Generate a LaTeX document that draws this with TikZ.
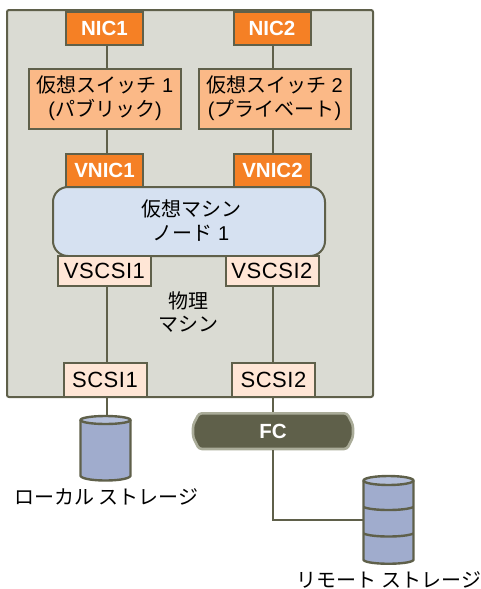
\documentclass[tikz,border=0pt]{standalone}
\usepackage{fontspec}
\setmainfont{Liberation Sans}
\newfontfamily\jpf{Noto Sans CJK JP}
\definecolor{edge}{HTML}{5F604A}
\definecolor{frameC}{HTML}{DADBD3}
\definecolor{orangeC}{HTML}{F58025}
\definecolor{switchC}{HTML}{FBB987}
\definecolor{vmC}{HTML}{D6E1F1}
\definecolor{portC}{HTML}{FFE6D6}
\definecolor{diskC}{HTML}{A0ACCD}
\definecolor{diskT}{HTML}{B4BFDA}
\definecolor{fcB}{HTML}{AAAC99}
\tikzset{
  box/.style={draw=edge,line width=2pt,inner sep=0pt,align=center},
  nicbox/.style={box,fill=orangeC,text=white,font=\fontsize{20.5}{24}\selectfont\bfseries,minimum width=77pt,minimum height=33pt},
  swbox/.style={box,fill=switchC,font=\fontsize{20}{24}\selectfont,minimum width=152pt,minimum height=60pt},
  portbox/.style={box,fill=portC,font=\fontsize{22}{24}\selectfont\addfontfeature{LetterSpace=2.5}},
  lbl/.style={inner sep=0pt,align=center,font=\fontsize{20}{23.5}\selectfont},
  conn/.style={draw=edge,line width=2pt},
  diskline/.style={draw=edge,line width=2.4pt,line join=round},
  diskanchor/.style={inner sep=0pt,minimum width=51pt}
}
\begin{document}
\begin{tikzpicture}[x=1pt,y=-1pt]
\useasboundingbox (0,0) rectangle (481,589);
\coordinate (colA) at (107,0);
\coordinate (colB) at (273,0);
\node[draw=edge,fill=frameC,line width=2pt,rounded corners=2pt,minimum width=366pt,minimum height=387pt,inner sep=0pt] (host) at (190,203.5) {};
\node[nicbox] (nic1) at (104.5,28.5) {NIC1};
\node[nicbox] (nic2) at (272,28.5) {NIC2};
\node[swbox] (sw1) at (105,98.5) {{\jpf 仮想スイッチ} 1\\({\jpf パブリック})};
\node[swbox] (sw2) at (274.5,98.5) {{\jpf 仮想スイッチ} 2\\({\jpf プライベート})};
\node[nicbox] (vnic1) at (104.5,170) {VNIC1};
\node[nicbox] (vnic2) at (272.5,170) {VNIC2};
\node[box,fill=vmC,rounded corners=15pt,minimum width=272pt,minimum height=69pt] (vm) at (189,221.5) {};
\node[lbl] (vmt) at (191,220.5) {{\jpf 仮想マシン}\\{\jpf ノード} 1};
\node[portbox,minimum width=93pt,minimum height=30pt] (vs1) at (104.5,271) {VSCSI1};
\node[portbox,minimum width=93pt,minimum height=30pt] (vs2) at (272,271) {VSCSI2};
\node[lbl] (phys) at (188,312) {\jpf 物理\\\jpf マシン};
\node[portbox,minimum width=83pt,minimum height=34pt] (sc1) at (105,380) {SCSI1};
\node[portbox,minimum width=83pt,minimum height=34pt] (sc2) at (273.5,380) {SCSI2};
% disks
\node[diskanchor,minimum height=65pt] (d1) at (105.5,448) {};
\draw[diskline,fill=diskC] (80.5,420) -- (80.5,476) .. controls (84,482) and (127,482) .. (130.5,476) -- (130.5,420);
\draw[diskline,fill=diskT] (105.5,420) ellipse [x radius=25,y radius=4];
\node[diskanchor,minimum height=88pt] (d2) at (388.5,520) {};
\draw[diskline,fill=diskC] (363.5,480.5) -- (363.5,560) .. controls (367,565) and (410,565) .. (413.5,560) -- (413.5,480.5);
\draw[diskline,fill=diskT] (388.5,480.5) ellipse [x radius=25,y radius=4.5];
\draw[diskline] (363.5,507) .. controls (372,511) and (405,511) .. (413.5,507);
\draw[diskline] (363.5,533.5) .. controls (372,537.5) and (405,537.5) .. (413.5,533.5);
\node[lbl] (l1) at (106.5,497) {\jpf ローカル ストレージ};
\node[lbl] (l2) at (389,580) {\jpf リモート ストレージ};
% FC
\draw[draw=fcB,fill=edge,line width=2.6pt,rounded corners=3pt] (199,413.3) -- (347,413.3) -- (353,425) -- (353,437) -- (347,449) -- (199,449) -- (193,437) -- (193,425) -- cycle;
\node[inner sep=0pt,minimum width=162pt,minimum height=38pt,text=white,font=\fontsize{20.5}{24}\selectfont\bfseries] (fc) at (273,431) {FC};
% connectors
\draw[conn] (nic1.south -| colA) -- (sw1.north -| colA);
\draw[conn] (nic2.south -| colB) -- (sw2.north -| colB);
\draw[conn] (sw1.south -| colA) -- (vnic1.north -| colA);
\draw[conn] (sw2.south -| colB) -- (vnic2.north -| colB);
\draw[conn] (vs1.south -| colA) -- (sc1.north -| colA);
\draw[conn] (vs2.south -| colB) -- (sc2.north -| colB);
\draw[conn] (sc1.south -| colA) -- (d1.north -| colA);
\draw[conn] (sc2.south -| colB) -- (fc.north -| colB);
\draw[conn] (fc.south -| colB) |- (d2.west);
\end{tikzpicture}
\end{document}
